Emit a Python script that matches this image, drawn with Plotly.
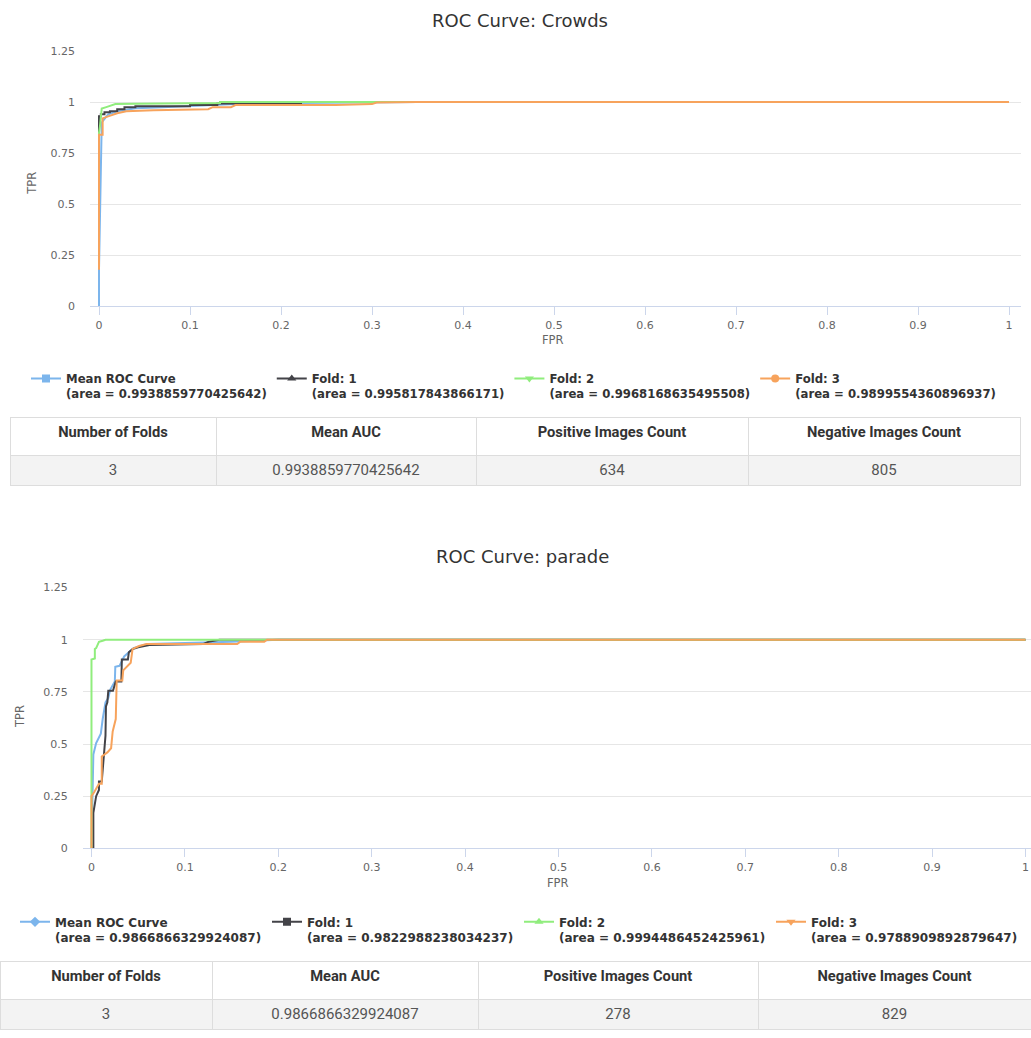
import plotly.graph_objects as go

# ---------------- Data ----------------
series_names = ["Mean ROC Curve", "Fold: 1", "Fold: 2", "Fold: 3"]
series_colors = ["#7cb5ec", "#434348", "#90ed7d", "#f7a35c"]

# Crowds
crowds_auc = ["0.9938859770425642", "0.995817843866171", "0.9968168635495508", "0.9899554360896937"]
crowds_mean_fpr = [0, 0, 0.003, 0.01, 0.02, 0.04, 0.07, 0.1, 0.15, 0.22, 0.3, 0.35, 1.0]
crowds_mean_tpr = [0, 0.18, 0.9, 0.94, 0.955, 0.97, 0.975, 0.98, 0.99, 0.995, 0.997, 1.0, 1.0]
crowds_f1_fpr = [0, 0, 0.002, 0.002, 0.006, 0.006, 0.012, 0.012, 0.02, 0.02, 0.028, 0.028, 0.04, 0.04,
                 0.1, 0.1, 0.13, 0.13, 0.222, 0.222, 1.0]
crowds_f1_tpr = [0.2, 0.93, 0.93, 0.94, 0.94, 0.95, 0.95, 0.955, 0.955, 0.965, 0.965, 0.975, 0.975, 0.98,
                 0.98, 0.985, 0.985, 0.993, 0.993, 1.0, 1.0]
crowds_f2_fpr = [0, 0, 0.001, 0.003, 0.008, 0.018, 0.04, 0.133, 0.133, 1.0]
crowds_f2_tpr = [0.2, 0.85, 0.88, 0.968, 0.975, 0.99, 0.992, 0.995, 1.0, 1.0]
crowds_f3_fpr = [0, 0, 0.004, 0.004, 0.01, 0.02, 0.03, 0.06, 0.12, 0.125, 0.145, 0.15, 0.26, 0.3,
                 0.305, 0.35, 1.0]
crowds_f3_tpr = [0.18, 0.84, 0.84, 0.92, 0.93, 0.945, 0.955, 0.96, 0.965, 0.975, 0.975, 0.985, 0.985,
                 0.99, 0.998, 1.0, 1.0]
crowds_table = ["3", "0.9938859770425642", "634", "805"]

# parade
parade_auc = ["0.9866866329924087", "0.9822988238034237", "0.9994486452425961", "0.9788909892879647"]
parade_mean_fpr = [0, 0.002, 0.005, 0.008, 0.01, 0.012, 0.015, 0.018, 0.02, 0.025, 0.0255, 0.03, 0.035,
                   0.045, 0.06, 0.1, 0.15, 0.2, 1.0]
parade_mean_tpr = [0, 0.45, 0.505, 0.535, 0.55, 0.62, 0.7, 0.72, 0.76, 0.8, 0.87, 0.875, 0.92, 0.96,
                   0.98, 0.985, 0.99, 1.0, 1.0]
parade_f1_fpr = [0, 0.002, 0.002, 0.004, 0.005, 0.008, 0.008, 0.011, 0.013, 0.015, 0.0155, 0.017, 0.018,
                 0.023, 0.026, 0.032, 0.0325, 0.039, 0.04, 0.044, 0.05, 0.058, 0.062, 0.12, 0.125,
                 0.137, 1.0]
parade_f1_tpr = [0, 0.0, 0.17, 0.22, 0.25, 0.28, 0.32, 0.32, 0.45, 0.54, 0.68, 0.70, 0.755, 0.755, 0.80,
                 0.80, 0.905, 0.905, 0.94, 0.955, 0.964, 0.97, 0.975, 0.98, 0.99, 1.0, 1.0]
parade_f2_fpr = [0, 0, 0.0036, 0.0036, 0.005, 0.008, 0.012, 0.015, 1.0]
parade_f2_tpr = [0.0, 0.905, 0.91, 0.956, 0.96, 0.99, 0.995, 1.0, 1.0]
parade_f3_fpr = [0, 0, 0.003, 0.008, 0.011, 0.011, 0.017, 0.021, 0.0227, 0.024, 0.026, 0.027, 0.033,
                 0.034, 0.039, 0.042, 0.044, 0.051, 0.059, 0.156, 0.159, 0.185, 0.188, 1.0]
parade_f3_tpr = [0, 0.25, 0.27, 0.31, 0.31, 0.44, 0.46, 0.48, 0.56, 0.58, 0.62, 0.805, 0.805, 0.853,
                 0.877, 0.89, 0.956, 0.97, 0.98, 0.98, 0.99, 0.99, 1.0, 1.0]
parade_table = ["3", "0.9866866329924087", "278", "829"]

table_headers = ["Number of Folds", "Mean AUC", "Positive Images Count", "Negative Images Count"]

x_ticks = [0, 0.1, 0.2, 0.3, 0.4, 0.5, 0.6, 0.7, 0.8, 0.9, 1]
x_tick_text = ["0", "0.1", "0.2", "0.3", "0.4", "0.5", "0.6", "0.7", "0.8", "0.9", "1"]
y_ticks = [0, 0.25, 0.5, 0.75, 1, 1.25]
y_tick_text = ["0", "0.25", "0.5", "0.75", "1", "1.25"]

# ---------------- Figure ----------------
W, H = 1031, 1038
FONT = "DejaVu Sans, Lucida Grande, Arial, sans-serif"
TABLE_FONT = "Roboto, Arial, sans-serif"


def py(px):
    """Convert a pixel offset from the top to paper y."""
    return 1 - px / H


def px_(x):
    return x / W


fig = go.Figure()

charts = [
    dict(curves=[(crowds_mean_fpr, crowds_mean_tpr), (crowds_f1_fpr, crowds_f1_tpr),
                 (crowds_f2_fpr, crowds_f2_tpr), (crowds_f3_fpr, crowds_f3_tpr)],
         auc=crowds_auc, symbols=["square", "triangle-up", "triangle-down", "circle"],
         xa="x", ya="y", legend="legend"),
    dict(curves=[(parade_mean_fpr, parade_mean_tpr), (parade_f1_fpr, parade_f1_tpr),
                 (parade_f2_fpr, parade_f2_tpr), (parade_f3_fpr, parade_f3_tpr)],
         auc=parade_auc, symbols=["diamond", "square", "triangle-up", "triangle-down"],
         xa="x2", ya="y2", legend="legend2"),
]

for ci, ch in enumerate(charts):
    for i, (fx, ty) in enumerate(ch["curves"]):
        group = f"c{ci}s{i}"
        fig.add_trace(go.Scatter(
            x=fx, y=ty, mode="lines", xaxis=ch["xa"], yaxis=ch["ya"],
            line=dict(color=series_colors[i], width=2),
            legendgroup=group, showlegend=False, hoverinfo="x+y",
        ))
        # legend entry: line with marker symbol
        fig.add_trace(go.Scatter(
            x=[None], y=[None], mode="lines+markers", xaxis=ch["xa"], yaxis=ch["ya"],
            line=dict(color=series_colors[i], width=2),
            marker=dict(symbol=ch["symbols"][i], size=8, color=series_colors[i]),
            name=f"{series_names[i]}<br>(area = {ch['auc'][i]})",
            legendgroup=group, legend=ch["legend"], showlegend=True,
        ))

# Tables
for vals, dom_x, top, bot, widths in [
    (crowds_table, [px_(10), px_(1020)], 417, 487, [206, 260, 272, 272]),
    (parade_table, [0, 1], 968, 1038, [212, 266, 280, 273]),
]:
    fig.add_trace(go.Table(
        domain=dict(x=dom_x, y=[py(bot), py(top)]),
        columnwidth=widths,
        header=dict(values=table_headers, fill_color="white", align="center", height=38,
                    line=dict(color="#dddddd", width=1),
                    font=dict(family=TABLE_FONT, size=14.7, color="#333333", weight="bold")),
        cells=dict(values=[[v] for v in vals], fill_color="#f3f3f3", align="center", height=30,
                   line=dict(color="#dddddd", width=1),
                   font=dict(family=TABLE_FONT, size=15, color="#555555")),
    ))

axis_common_x = dict(
    tickvals=x_ticks, ticktext=x_tick_text, showgrid=False, zeroline=False,
    showline=True, linecolor="#ccd6eb", linewidth=1, ticks="outside", ticklen=8,
    tickcolor="#ccd6eb", tickfont=dict(family=FONT, size=11, color="#666666"),
    fixedrange=True,
)
axis_common_y = dict(
    tickvals=y_ticks, ticktext=y_tick_text, range=[0, 1.25], showgrid=True,
    gridcolor="#e6e6e6", gridwidth=1, zeroline=False, showline=False, ticks="",
    ticklabelstandoff=14, tickfont=dict(family=FONT, size=11, color="#666666"),
    fixedrange=True,
)

legend_common = dict(
    orientation="h", xanchor="left", yanchor="top", valign="top",
    bgcolor="rgba(0,0,0,0)", borderwidth=0, itemclick=False,
)

fig.update_layout(
    width=W, height=H, autosize=False,
    margin=dict(l=0, r=0, t=0, b=0, pad=0),
    paper_bgcolor="white", plot_bgcolor="white",
    font=dict(family=FONT),
    xaxis=dict(domain=[px_(90), px_(1021)], range=[-0.00989, 1.01319], anchor="y", **axis_common_x),
    yaxis=dict(domain=[py(304.3), py(45.5)], anchor="x", **axis_common_y),
    xaxis2=dict(domain=[px_(82.7), 1.0], range=[-0.0094, 1.0059], anchor="y2", **axis_common_x),
    yaxis2=dict(domain=[py(853), py(589)], anchor="x2", **axis_common_y),
    legend=dict(x=px_(26), y=py(363),
                font=dict(family=FONT, size=11.7, color="#333333", weight="bold"),
                **legend_common),
    legend2=dict(x=px_(15), y=py(913), entrywidth=207, entrywidthmode="pixels",
                 font=dict(family=FONT, size=12, color="#333333", weight="bold"),
                 **legend_common),
    showlegend=True,
    annotations=[
        dict(text="ROC Curve: Crowds", x=px_(520), y=py(15)),
        dict(text="ROC Curve: parade", x=px_(522), y=py(557)),
        dict(text="FPR", x=px_(553), y=py(338)),
        dict(text="FPR", x=px_(558), y=py(888)),
        dict(text="TPR", x=px_(32), y=py(180), textangle=-90),
        dict(text="TPR", x=px_(20), y=py(720), textangle=-90),
    ],
)

# shared annotation styling: titles large and dark, axis titles small and grey
for ann in fig.layout.annotations:
    ann.update(xref="paper", yref="paper", xanchor="center", yanchor="middle", showarrow=False)
    if ann.text.startswith("ROC"):
        ann.font = dict(family=FONT, size=18, color="#333333")
    else:
        ann.font = dict(family=FONT, size=11.5, color="#666666")

fig.write_html("out.html")
